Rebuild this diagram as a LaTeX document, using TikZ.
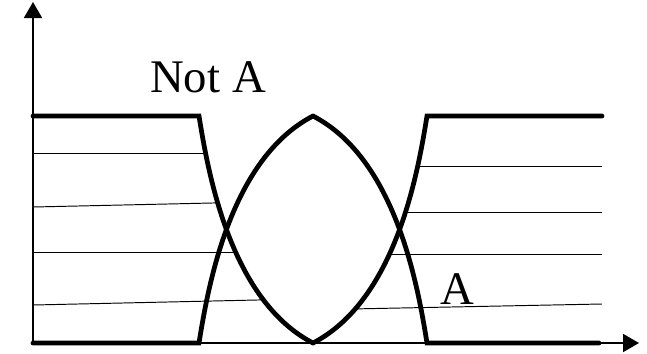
\documentclass[tikz,border=0pt]{standalone}
\usepackage{fontspec}
\setmainfont{Liberation Serif}
\usetikzlibrary{arrows.meta}

\begin{document}
\begin{tikzpicture}[
  x=0.02cm, y=-0.02cm,
  axis/.style={line width=1.1pt, -{Triangle[length=0.32cm, width=0.36cm]}},
  level/.style={line width=2.7pt, line cap=round},
  hatch/.style={line width=0.55pt},
  lbl/.style={font=\fontsize{26.6}{30}\selectfont, inner sep=0pt, anchor=base},
]
\useasboundingbox (0,0) rectangle (647,353);

%% ---- Axes ----
\coordinate (origin) at (33,343);
\coordinate (ytip)   at (33,2);
\coordinate (xtip)   at (639,343);

%% ---- Hatching left of the Not A edge ----
\begin{scope}
  \clip (33,116) -- (199,116) .. controls (208,172) and (230,300) .. (313,343)
        -- (33,343) -- cycle;
  \foreach \ya/\yb in {153/153, 207/200.6, 252/252, 305/298.6}
    \draw[hatch] (33,\ya) -- (320,\yb);
\end{scope}

%% ---- Hatching right of the A edge ----
\begin{scope}
  \clip (427,116) .. controls (418,172) and (396,300) .. (313,343)
        -- (602,343) -- (602,116) -- cycle;
  \foreach \ya/\yb in {166/166, 212/212, 254/254, 310/304}
    \draw[hatch] (300,\ya) -- (602,\yb);
\end{scope}

%% ---- Thick edges ----
\draw[level] (33,116) -- (199,116) .. controls (208,172) and (230,300) .. (313,343);
\draw[level] (33,343) -- (199,343) .. controls (208,287) and (230,159) .. (313,116);
\draw[level] (602,116) -- (427,116) .. controls (418,172) and (396,300) .. (313,343);
\draw[level] (599,343) -- (427,343) .. controls (418,287) and (396,159) .. (313,116);

\draw[axis] (origin) -- (ytip);
\draw[axis] (origin) -- (xtip);

%% ---- Labels ----
\node[lbl] (notA) at (208,92)    {Not A};
\node[lbl] (lblA) at (457.5,304) {A};

\end{tikzpicture}
\end{document}
